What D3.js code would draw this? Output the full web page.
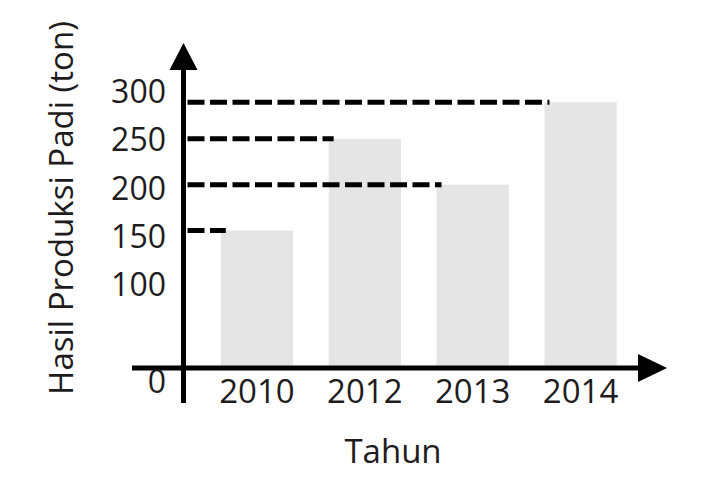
<!DOCTYPE html>
<head>
    <script src="https://d3js.org/d3.v7.min.js"></script>
    <style>
        body { margin: 0; background: white; }
        text { font-family: "Open Sans", sans-serif; fill: #1e1c1d; }
    </style>
</head>
<body>
    <svg id="plot" width="719" height="484"></svg>
    <script>
        // data
        const years = ["2010", "2012", "2013", "2014"];
        const production = [150, 250, 200, 290];
        const tickValues = [0, 100, 150, 200, 250, 300];

        const svg = d3.select("svg#plot");

        // scales
        const x = d3.scaleBand()
            .domain(years)
            .range([203, 634.5])
            .paddingInner(0.33)
            .paddingOuter(0.165);

        const y = d3.scaleLinear()
            .domain([0, 300])
            .range([368, 93]);

        // tick labels sit slightly off the grid in the original figure
        const labelY = d3.scaleLinear()
            .domain([0, 300])
            .range([393, 103]);

        const axisX = 183.5;
        const axisY = y(0);

        // bars
        svg.selectAll("rect.bar")
            .data(years)
            .enter()
            .append("rect")
            .attr("class", "bar")
            .attr("x", d => x(d))
            .attr("y", (d, i) => y(production[i]))
            .attr("width", x.bandwidth())
            .attr("height", (d, i) => y(0) - y(production[i]))
            .attr("fill", "#e5e5e5");

        // dashed guide lines from axis to each bar
        svg.selectAll("line.guide")
            .data(years)
            .enter()
            .append("line")
            .attr("class", "guide")
            .attr("x1", axisX + 4)
            .attr("x2", d => x(d) + 5)
            .attr("y1", (d, i) => y(production[i]))
            .attr("y2", (d, i) => y(production[i]))
            .attr("stroke", "black")
            .attr("stroke-width", 5)
            .attr("stroke-dasharray", "17,5.5");

        // axes lines
        svg.append("line")
            .attr("x1", axisX).attr("x2", axisX)
            .attr("y1", 62).attr("y2", 403)
            .attr("stroke", "black").attr("stroke-width", 5);

        svg.append("line")
            .attr("x1", 132).attr("x2", 645)
            .attr("y1", axisY).attr("y2", axisY)
            .attr("stroke", "black").attr("stroke-width", 5);

        // arrow heads
        svg.append("path")
            .attr("d", `M${axisX},43 L${axisX + 14},70 L${axisX - 14},70 Z`)
            .attr("fill", "black");

        svg.append("path")
            .attr("d", `M667,${axisY} L638,${axisY - 14} L638,${axisY + 14} Z`)
            .attr("fill", "black");

        // y tick labels
        svg.selectAll("text.ytick")
            .data(tickValues)
            .enter()
            .append("text")
            .attr("class", "ytick")
            .attr("x", 166)
            .attr("y", d => labelY(d))
            .attr("text-anchor", "end")
            .attr("font-size", 32)
            .text(d => d);

        // x tick labels
        svg.selectAll("text.xtick")
            .data(years)
            .enter()
            .append("text")
            .attr("class", "xtick")
            .attr("x", d => x(d) + x.bandwidth() / 2)
            .attr("y", 403)
            .attr("text-anchor", "middle")
            .attr("font-size", 33)
            .text(d => d);

        // axis titles
        svg.append("text")
            .attr("x", 393)
            .attr("y", 463)
            .attr("text-anchor", "middle")
            .attr("font-size", 33)
            .text("Tahun");

        svg.append("text")
            .attr("transform", "translate(73,208) rotate(-90)")
            .attr("text-anchor", "middle")
            .attr("font-size", 33)
            .text("Hasil Produksi Padi (ton)");
    </script>
</body>
